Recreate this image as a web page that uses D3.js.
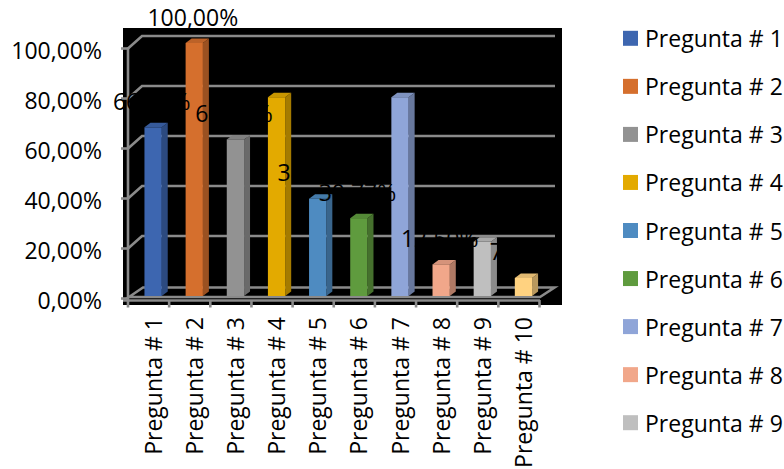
<!DOCTYPE html>
<html>
<head>
<meta charset="utf-8">
<script src="https://cdn.jsdelivr.net/npm/d3@7"></script>
<style>
  html, body { margin: 0; padding: 0; background: #fff; }
  svg { display: block; font-family: "Open Sans", "Noto Sans", sans-serif; }
</style>
</head>
<body>
<svg id="chart" width="784" height="469"></svg>
<script>
// Survey results per question
const categories = ["Pregunta # 1", "Pregunta # 2", "Pregunta # 3", "Pregunta # 4", "Pregunta # 5",
                    "Pregunta # 6", "Pregunta # 7", "Pregunta # 8", "Pregunta # 9", "Pregunta # 10"];
const values = [0.6667, 1.0, 0.6190, 0.7857, 0.3846, 0.3077, 0.7857, 0.1250, 0.2143, 0.0714];
const colors = ["#3D66B0", "#D56F2D", "#929292", "#E3AA00", "#4E8BC1",
                "#5F9B3E", "#8FA5D8", "#F1A78A", "#BFBFBF", "#FFD280"];
const yTicks = [0, 0.2, 0.4, 0.6, 0.8, 1.0];
const legendItems = categories.slice(0, 9);

const svg = d3.select("#chart");
const fmt = v => d3.format(".2f")(v * 100).replace(".", ",") + "%";
const fontSize = 23;

// 3D projection parameters
const depthX = 14, depthY = -12.5;          // wall depth
const barDX = 6, barDY = -4.5;              // bar thickness in depth

const x = d3.scaleBand().domain(categories).range([128, 539.5]).paddingInner(0).paddingOuter(0);
const yFront = d3.scaleLinear().domain([0, 1]).range([298.5, 48.5]);
const yBar = d3.scaleLinear().domain([0, 1]).range([296, 43]);
const bw = x.bandwidth();

// plot area background
svg.append("rect").attr("x", 123).attr("y", 28).attr("width", 439).attr("height", 277).attr("fill", "#000");

const grid = "#8A8A8A";
// gridlines on the back wall with the side-wall diagonals
const g = svg.append("g").attr("fill", "none").attr("stroke", grid).attr("stroke-width", 2.6);
yTicks.filter(t => t > 0).forEach(t => {
  const yf = yFront(t);
  g.append("path").attr("d", `M128,${yf} L${128 + depthX},${yf + depthY} L555,${yf + depthY}`);
});

// floor
const yf0 = yFront(0) - 1.5;
g.append("path").attr("d",
  `M129,${yf0} L${129 + depthX},${yf0 + depthY + 3} L554.5,${yf0 + depthY + 3} L540,${yf0} Z`);

// vertical axis line and ticks
g.append("line").attr("x1", 128).attr("x2", 128).attr("y1", yFront(1) - 1).attr("y2", 301.5);
yTicks.forEach(t => {
  g.append("line").attr("x1", 121).attr("x2", 128).attr("y1", yFront(t)).attr("y2", yFront(t));
});
// category axis line and ticks
g.append("line").attr("x1", 123).attr("x2", 540).attr("y1", 300.5).attr("y2", 300.5);
d3.range(categories.length + 1).forEach(i => {
  const xx = 128 + i * bw;
  g.append("line").attr("x1", xx).attr("x2", xx).attr("y1", 300).attr("y2", 307.5);
});

// bars
const bars = svg.append("g");
categories.forEach((c, i) => {
  const x0 = x(c) + bw * 0.4, x1 = x(c) + bw * 0.82;
  const yt = yBar(values[i]), yb = yBar(0);
  const col = d3.color(colors[i]);
  // side face
  bars.append("path")
    .attr("d", `M${x1},${yb} L${x1},${yt} L${x1 + barDX},${yt + barDY} L${x1 + barDX},${yb + barDY} Z`)
    .attr("fill", col.darker(0.9));
  // top cap
  bars.append("path")
    .attr("d", `M${x0},${yt} L${x0 + barDX},${yt + barDY} L${x1 + barDX},${yt + barDY} L${x1},${yt} Z`)
    .attr("fill", col.darker(0.35));
  // front face
  bars.append("rect").attr("x", x0).attr("y", yt).attr("width", x1 - x0).attr("height", yb - yt)
    .attr("fill", col);
});

// data labels
svg.append("g").selectAll("text").data(categories).join("text")
  .attr("x", c => x(c) + bw * 0.6 - 1)
  .attr("y", (c, i) => yBar(values[i]) - 26.5)
  .attr("text-anchor", "middle").attr("dominant-baseline", "central")
  .attr("font-size", fontSize).attr("fill", "#000")
  .text((c, i) => fmt(values[i]));

// y axis labels
svg.append("g").selectAll("text").data(yTicks).join("text")
  .attr("x", 102).attr("y", t => yFront(t) + 1)
  .attr("text-anchor", "end").attr("dominant-baseline", "central")
  .attr("font-size", fontSize).attr("fill", "#000")
  .text(t => fmt(t));

// category labels (rotated)
svg.append("g").selectAll("text").data(categories).join("text")
  .attr("transform", c => `translate(${x(c) + bw * 0.6},317) rotate(-90)`)
  .attr("text-anchor", "end").attr("dominant-baseline", "central")
  .attr("font-size", fontSize).attr("fill", "#000")
  .text(c => c);

// legend
const lg = svg.append("g").selectAll("g").data(legendItems).join("g")
  .attr("transform", (d, i) => `translate(623,${38.3 + i * 48.05})`);
lg.append("rect").attr("x", 0).attr("y", -7.5).attr("width", 15).attr("height", 15)
  .attr("fill", (d, i) => colors[i]);
lg.append("text").attr("x", 22).attr("y", 0).attr("dominant-baseline", "central")
  .attr("font-size", fontSize).attr("fill", "#000").text(d => d);
</script>
</body>
</html>
